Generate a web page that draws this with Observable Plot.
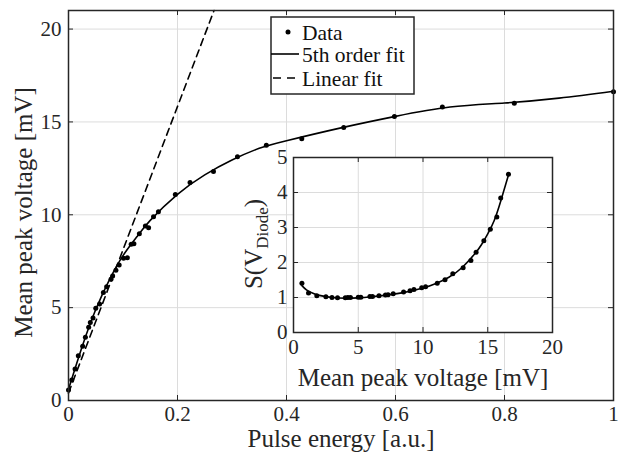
<!DOCTYPE html>
<html><head><meta charset="utf-8">
<script src="https://cdn.jsdelivr.net/npm/d3@7"></script>
<script src="https://cdn.jsdelivr.net/npm/@observablehq/plot@0.6"></script>
<style>
html,body{margin:0;padding:0;background:#fff;}
#chart{position:relative;width:618px;height:461px;overflow:hidden;font-family:'Liberation Serif',serif;}
#chart > svg{position:absolute;overflow:visible;}
</style></head><body><div id="chart"></div>
<script>
// ---- main chart data ----
const xTicks = [0, 0.2, 0.4, 0.6, 0.8, 1];
const yTicks = [0, 5, 10, 15, 20];
const energy = [0, 0.006, 0.012, 0.018, 0.026, 0.031, 0.037, 0.04, 0.045, 0.05, 0.057, 0.064, 0.07, 0.078, 0.081, 0.087, 0.093, 0.101, 0.108, 0.115, 0.12, 0.13, 0.141, 0.147, 0.156, 0.165, 0.196, 0.223, 0.266, 0.31, 0.363, 0.428, 0.505, 0.598, 0.686, 0.818, 1.0];
const peakV = [0.57, 1.1, 1.7, 2.41, 2.92, 3.4, 3.94, 4.2, 4.44, 4.97, 5.19, 5.81, 6.12, 6.53, 6.7, 7.01, 7.3, 7.66, 7.69, 8.41, 8.44, 8.98, 9.39, 9.3, 9.89, 10.16, 11.09, 11.74, 12.33, 13.12, 13.75, 14.1, 14.7, 15.29, 15.8, 16.0, 16.63];
const fitEnergy = [0, 0.025, 0.05, 0.075, 0.1, 0.125, 0.15, 0.2, 0.25, 0.3, 0.35, 0.4, 0.5, 0.6, 0.7, 0.8, 0.9, 1.0];
const fitPeakV = [0.6, 2.9, 4.9, 6.5, 7.8, 8.8, 9.7, 11.1, 12.15, 12.95, 13.58, 13.99, 14.68, 15.3, 15.8, 16.02, 16.28, 16.65];
const linEnergy = [0, 0.267];
const linPeakV = [0.4, 21];
// ---- inset data ----
const insetXTicks = [0, 5, 10, 15, 20];
const insetYTicks = [0, 1, 2, 3, 4, 5];
const insetV = [0.65, 1.16, 1.8, 2.5, 2.97, 3.4, 4.0, 4.2, 4.4, 5.0, 5.2, 5.9, 6.1, 6.6, 7.1, 7.3, 7.7, 8.5, 9.0, 9.3, 9.9, 10.2, 11.1, 11.7, 12.3, 13.1, 13.7, 14.1, 14.7, 15.2, 15.7, 16.0, 16.6];
const insetS = [1.41, 1.13, 1.05, 1.02, 1.0, 0.99, 0.99, 1.0, 1.0, 1.01, 1.01, 1.03, 1.03, 1.05, 1.07, 1.08, 1.11, 1.16, 1.19, 1.23, 1.28, 1.31, 1.41, 1.51, 1.68, 1.85, 2.06, 2.29, 2.62, 2.95, 3.30, 3.84, 4.52];
const insetFitV = [0.65, 1, 1.5, 2, 3, 4, 5, 6, 7, 8, 9, 10, 11, 12, 13, 14, 14.5, 15, 15.5, 16, 16.6];
const insetFitS = [1.34, 1.22, 1.12, 1.06, 1.0, 0.98, 0.99, 1.02, 1.06, 1.11, 1.18, 1.27, 1.4, 1.58, 1.85, 2.25, 2.5, 2.82, 3.2, 3.75, 4.5];
// ---- text ----
const xLabel = "Pulse energy [a.u.]";
const yLabel = "Mean peak voltage [mV]";
const insetXLabel = "Mean peak voltage [mV]";
const legendLabels = ["Data", "5th order fit", "Linear fit"];

const FONT = "'Liberation Serif', 'Times New Roman', serif";
const INK = "#262626";
const GRID = "#dcdcdc";

const root = document.getElementById("chart");

// main plot
const yMax = 21;
const mainTickY = 5 * yMax / 390;
const mainTickX = 5 / 545;
const main = Plot.plot({
  width: 618, height: 461,
  marginLeft: 68, marginRight: 5, marginTop: 10, marginBottom: 61,
  style: {fontFamily: FONT, background: "white", color: INK},
  x: {domain: [0, 1]},
  y: {domain: [0, yMax]},
  marks: [
    Plot.gridX(xTicks, {stroke: GRID, strokeOpacity: 1, strokeWidth: 1}),
    Plot.gridY(yTicks, {stroke: GRID, strokeOpacity: 1, strokeWidth: 1}),
    Plot.ruleX(xTicks, {x: d => d, y1: 0, y2: mainTickY, stroke: INK, strokeWidth: 1}),
    Plot.ruleX(xTicks, {x: d => d, y1: yMax - mainTickY, y2: yMax, stroke: INK, strokeWidth: 1}),
    Plot.ruleY(yTicks, {y: d => d, x1: 0, x2: mainTickX, stroke: INK, strokeWidth: 1}),
    Plot.ruleY(yTicks, {y: d => d, x1: 1 - mainTickX, x2: 1, stroke: INK, strokeWidth: 1}),
    Plot.axisX(xTicks, {tickSize: 0, tickPadding: 6, fontSize: 21, label: null, tickFormat: d => String(d), fill: INK}),
    Plot.axisY(yTicks, {tickSize: 0, tickPadding: 7, fontSize: 21, label: null, tickFormat: d => String(d), fill: INK}),
    Plot.text([xLabel], {text: d => d, frameAnchor: "bottom", dy: 38, fontSize: 25, textAnchor: "middle", lineAnchor: "middle", fill: INK}),
    Plot.text([yLabel], {text: d => d, frameAnchor: "left", rotate: -90, dx: -45, dy: 7, fontSize: 25, textAnchor: "middle", lineAnchor: "middle", fill: INK}),
    Plot.line(linEnergy, {x: linEnergy, y: linPeakV, stroke: "black", strokeWidth: 1.6, strokeDasharray: "7,5"}),
    Plot.line(fitEnergy, {x: fitEnergy, y: fitPeakV, curve: "natural", stroke: "black", strokeWidth: 1.6}),
    Plot.dot(energy, {x: energy, y: peakV, r: 2.5, fill: "black", stroke: null}),
    Plot.frame({stroke: INK, strokeWidth: 1.5})
  ]
});
main.style.left = "0px"; main.style.top = "0px";
root.appendChild(main);

// legend (inside the main axes)
const leg = d3.create("svg").attr("width", 146).attr("height", 80)
  .style("left", "270px").style("top", "16px").style("position", "absolute");
leg.append("rect").attr("x", 1).attr("y", 1).attr("width", 143).attr("height", 77)
  .attr("fill", "white").attr("stroke", INK).attr("stroke-width", 1.5);
const rowsY = [16, 38, 62];
leg.append("circle").attr("cx", 18).attr("cy", rowsY[0]).attr("r", 2.5).attr("fill", "black");
leg.append("line").attr("x1", 1).attr("x2", 29).attr("y1", rowsY[1]).attr("y2", rowsY[1]).attr("stroke", "black").attr("stroke-width", 1.6);
leg.append("line").attr("x1", 3).attr("x2", 29).attr("y1", rowsY[2]).attr("y2", rowsY[2]).attr("stroke", "black").attr("stroke-width", 1.6).attr("stroke-dasharray", "8,6");
legendLabels.forEach((t, i) => {
  leg.append("text").attr("x", 32).attr("y", rowsY[i]).attr("dy", "0.35em")
    .attr("font-family", FONT).attr("font-size", 21.5).attr("fill", "#111").text(t);
});
root.appendChild(leg.node());

// inset
const iTickX = 5 * 20 / 259;
const iTickY = 5 * 5 / 175;
const inset = Plot.plot({
  width: 335, height: 262,
  marginLeft: 53, marginRight: 23, marginTop: 19, marginBottom: 68,
  style: {fontFamily: FONT, background: "transparent", color: INK},
  x: {domain: [0, 20]},
  y: {domain: [0, 5]},
  marks: [
    Plot.frame({fill: "white", stroke: null}),
    Plot.gridX(insetXTicks, {stroke: GRID, strokeOpacity: 1, strokeWidth: 1}),
    Plot.gridY(insetYTicks, {stroke: GRID, strokeOpacity: 1, strokeWidth: 1}),
    Plot.ruleX(insetXTicks, {x: d => d, y1: 0, y2: iTickY, stroke: INK, strokeWidth: 1}),
    Plot.ruleX(insetXTicks, {x: d => d, y1: 5 - iTickY, y2: 5, stroke: INK, strokeWidth: 1}),
    Plot.ruleY(insetYTicks, {y: d => d, x1: 0, x2: iTickX, stroke: INK, strokeWidth: 1}),
    Plot.ruleY(insetYTicks, {y: d => d, x1: 20 - iTickX, x2: 20, stroke: INK, strokeWidth: 1}),
    Plot.axisX(insetXTicks, {tickSize: 0, tickPadding: 7, fontSize: 21, label: null, tickFormat: d => String(d), fill: INK}),
    Plot.axisY(insetYTicks, {tickSize: 0, tickPadding: 6, fontSize: 21, label: null, tickFormat: d => String(d), fill: INK}),
    Plot.text([insetXLabel], {text: d => d, frameAnchor: "bottom", dy: 45, fontSize: 25, textAnchor: "middle", lineAnchor: "middle", fill: INK}),
    Plot.line(insetFitV, {x: insetFitV, y: insetFitS, curve: "natural", stroke: "black", strokeWidth: 1.6}),
    Plot.dot(insetV, {x: insetV, y: insetS, r: 2.5, fill: "black", stroke: null}),
    Plot.frame({stroke: INK, strokeWidth: 1.5})
  ]
});
inset.style.left = "240px"; inset.style.top = "138px";
const lab = d3.select(inset).append("text")
  .attr("transform", "translate(22,106) rotate(-90)")
  .attr("text-anchor", "middle").attr("font-family", FONT).attr("font-size", 25).attr("fill", INK);
lab.append("tspan").attr("font-size", 25).text("S(V");
lab.append("tspan").attr("font-size", 17).attr("dy", 6).text("Diode");
lab.append("tspan").attr("font-size", 25).attr("dy", -6).text(")");
root.appendChild(inset);
</script></body></html>
